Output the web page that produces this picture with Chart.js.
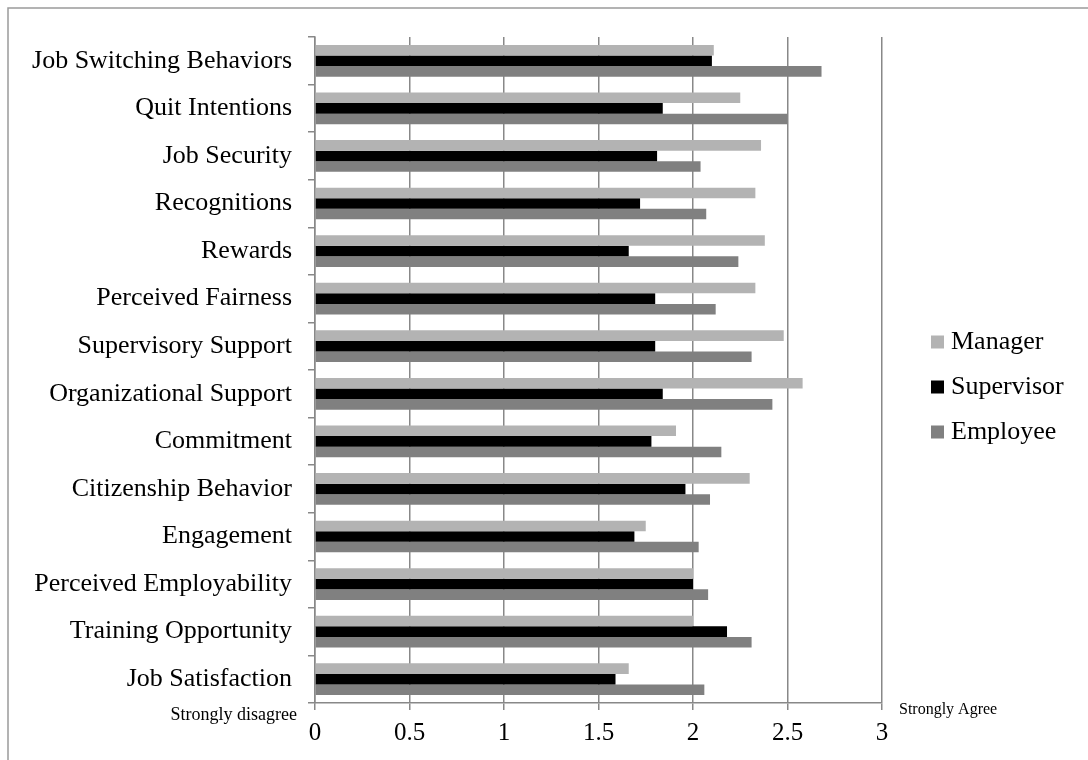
<!DOCTYPE html>
<html>
<head>
<meta charset="utf-8">
<title>Perceptions by role</title>
<script src="https://cdn.jsdelivr.net/npm/chart.js@4/dist/chart.umd.min.js"></script>
<style>
  html, body { margin: 0; padding: 0; background: #ffffff; }
  canvas { display: block; }
</style>
</head>
<body>
<canvas id="chart" width="1088" height="760"></canvas>
<script>
// Constructs, listed top to bottom
const categories = [
  'Job Switching Behaviors',
  'Quit Intentions',
  'Job Security',
  'Recognitions',
  'Rewards',
  'Perceived Fairness',
  'Supervisory Support',
  'Organizational Support',
  'Commitment',
  'Citizenship Behavior',
  'Engagement',
  'Perceived Employability',
  'Training Opportunity',
  'Job Satisfaction'
];

// Mean scores per role (0 = strongly disagree, 3 = strongly agree)
const managerValues    = [2.11, 2.25, 2.36, 2.33, 2.38, 2.33, 2.48, 2.58, 1.91, 2.30, 1.75, 2.00, 2.00, 1.66];
const supervisorValues = [2.10, 1.84, 1.81, 1.72, 1.66, 1.80, 1.80, 1.84, 1.78, 1.96, 1.69, 2.00, 2.18, 1.59];
const employeeValues   = [2.68, 2.50, 2.04, 2.07, 2.24, 2.12, 2.31, 2.42, 2.15, 2.09, 2.03, 2.08, 2.31, 2.06];

const seriesNames = ['Manager', 'Supervisor', 'Employee'];
const xTickLabels = ['0', '0.5', '1', '1.5', '2', '2.5', '3'];
const scaleEndLabels = ['Strongly disagree', 'Strongly Agree'];

const SERIF = '"Liberation Serif", "Times New Roman", serif';
const GRID = '#888888';

// Frame, legend and scale-end captions
const decorations = {
  id: 'decorations',
  afterDraw(chart) {
    const ctx = chart.ctx;
    const area = chart.chartArea;
    ctx.save();

    // outer frame
    ctx.strokeStyle = '#9a9a9a';
    ctx.lineWidth = 1.5;
    ctx.strokeRect(8, 8, chart.width + 20, chart.height + 20);

    // scale-end captions
    ctx.fillStyle = '#000000';
    ctx.textBaseline = 'middle';
    ctx.font = '18px ' + SERIF;
    ctx.textAlign = 'right';
    ctx.fillText(scaleEndLabels[0], area.left - 18, area.bottom + 12);
    ctx.font = '16px ' + SERIF;
    ctx.textAlign = 'left';
    ctx.fillText(scaleEndLabels[1], area.right + 17, area.bottom + 7);

    // legend
    ctx.font = '26px ' + SERIF;
    const legendX = 931;
    const legendY0 = 342;
    const legendStep = 45;
    chart.data.datasets.forEach((ds, i) => {
      const cy = legendY0 + i * legendStep;
      ctx.fillStyle = ds.backgroundColor;
      ctx.fillRect(legendX, cy - 6.5, 13, 13);
      ctx.fillStyle = '#000000';
      ctx.textAlign = 'left';
      ctx.fillText(ds.label, legendX + 20, cy);
    });
    ctx.restore();
  }
};

new Chart(document.getElementById('chart'), {
  type: 'bar',
  data: {
    labels: categories,
    datasets: [
      { label: seriesNames[0], data: managerValues,    backgroundColor: '#b3b3b3' },
      { label: seriesNames[1], data: supervisorValues, backgroundColor: '#000000' },
      { label: seriesNames[2], data: employeeValues,   backgroundColor: '#808080' }
    ]
  },
  options: {
    indexAxis: 'y',
    responsive: false,
    animation: false,
    devicePixelRatio: 1,
    layout: { padding: { left: 0, top: 37, right: 206, bottom: 0 } },
    datasets: {
      bar: { categoryPercentage: 0.667, barPercentage: 1.0, borderWidth: 0 }
    },
    plugins: {
      legend: { display: false },
      tooltip: { enabled: false }
    },
    scales: {
      x: {
        min: 0,
        max: 3,
        ticks: {
          stepSize: 0.5,
          color: '#000000',
          font: { family: SERIF, size: 25 },
          padding: 8,
          callback: (v, i) => xTickLabels[i]
        },
        grid: {
          color: GRID,
          lineWidth: 1.5,
          drawTicks: true,
          tickLength: 7,
          tickColor: GRID
        },
        border: { color: GRID, width: 1.5 },
        afterFit(scale) { scale.height = 57; }
      },
      y: {
        ticks: {
          color: '#000000',
          font: { family: SERIF, size: 26 },
          padding: 16,
          autoSkip: false
        },
        grid: {
          drawOnChartArea: false,
          drawTicks: true,
          tickLength: 7,
          color: GRID,
          lineWidth: 1.5
        },
        border: { color: GRID, width: 1.5 },
        afterFit(scale) { scale.width = 315; }
      }
    }
  },
  plugins: [decorations]
});
</script>
</body>
</html>
